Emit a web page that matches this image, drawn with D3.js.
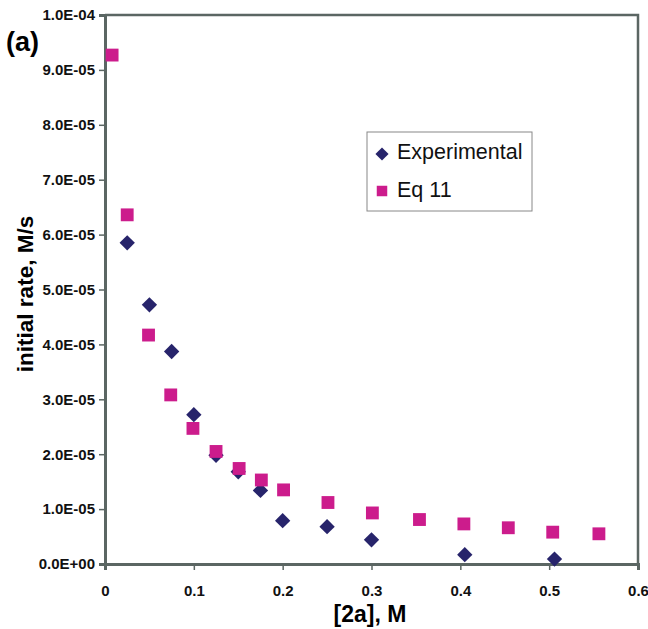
<!DOCTYPE html>
<html>
<head>
<meta charset="utf-8">
<script src="https://cdn.jsdelivr.net/npm/d3@7"></script>
<style>
  body { margin: 0; background: #fff; }
  text { font-family: "Liberation Sans", Arial, sans-serif; }
</style>
</head>
<body>
<div id="chart"></div>
<script>
// values
const expX = [0.025, 0.05, 0.075, 0.1, 0.125, 0.15, 0.175, 0.2, 0.25, 0.3, 0.405, 0.506];
const expY = [5.85e-5, 4.72e-5, 3.87e-5, 2.72e-5, 1.98e-5, 1.68e-5, 1.34e-5, 0.79e-5, 0.68e-5, 0.44e-5, 0.17e-5, 0.09e-5];
const eqX = [0.008, 0.025, 0.049, 0.074, 0.099, 0.125, 0.151, 0.176, 0.201, 0.251, 0.301, 0.354, 0.404, 0.454, 0.504, 0.556];
const eqY = [9.27e-5, 6.36e-5, 4.17e-5, 3.08e-5, 2.47e-5, 2.05e-5, 1.74e-5, 1.53e-5, 1.35e-5, 1.12e-5, 0.93e-5, 0.81e-5, 0.73e-5, 0.66e-5, 0.58e-5, 0.55e-5];
const xTicks = [0, 0.1, 0.2, 0.3, 0.4, 0.5, 0.6];
const yTicks = [0, 1e-5, 2e-5, 3e-5, 4e-5, 5e-5, 6e-5, 7e-5, 8e-5, 9e-5, 1e-4];
const seriesNames = ["Experimental", "Eq 11"];

const W = 648, H = 629;
const margin = { top: 15, right: 10, bottom: 65, left: 105 },
      width = W - margin.left - margin.right,
      height = H - margin.top - margin.bottom;

const navy = "#27246b", magenta = "#cc1c8c", axisCol = "#5b6663";

const svg = d3.select("#chart").append("svg")
  .attr("width", W).attr("height", H);
const g = svg.append("g")
  .attr("transform", `translate(${margin.left},${margin.top})`);

const x = d3.scaleLinear().domain([0, 0.6]).range([0, width]);
const y = d3.scaleLinear().domain([0, 1e-4]).range([height, 0]);

// frame: top/right
g.append("path")
  .attr("d", `M0,0H${width}V${height}`)
  .attr("fill", "none").attr("stroke", axisCol).attr("stroke-width", 2.5);

const fmtY = d => {
  const [m, e] = d.toExponential(1).split("e");
  const n = Math.abs(+e);
  return `${m}E${+e < 0 ? "-" : "+"}${String(n).padStart(2, "0")}`;
};

const yAxis = g.append("g")
  .call(d3.axisLeft(y).tickValues(yTicks).tickFormat(fmtY).tickSize(6).tickPadding(4));
const xAxis = g.append("g")
  .attr("transform", `translate(0,${height})`)
  .call(d3.axisBottom(x).tickValues(xTicks).tickFormat(d => d3.format("")(d)).tickSize(6).tickPadding(15));

[xAxis, yAxis].forEach(a => {
  a.select(".domain").attr("stroke", axisCol).attr("stroke-width", 3);
  a.selectAll(".tick line").attr("stroke", axisCol).attr("stroke-width", 1.5);
  a.selectAll(".tick text")
    .attr("fill", "#111")
    .style("font-size", "15px")
    .style("font-weight", "bold")
    .style("font-family", "Liberation Sans, Arial, sans-serif");
});

const diamond = d3.symbol().type(d3.symbolDiamond2).size(150);
const square = d3.symbol().type(d3.symbolSquare).size(165);

g.append("g").selectAll("path")
  .data(expX.map((v, i) => [v, expY[i]]))
  .enter().append("path")
  .attr("d", diamond)
  .attr("transform", d => `translate(${x(d[0])},${y(d[1])})`)
  .attr("fill", navy);

g.append("g").selectAll("path")
  .data(eqX.map((v, i) => [v, eqY[i]]))
  .enter().append("path")
  .attr("d", square)
  .attr("transform", d => `translate(${x(d[0])},${y(d[1])})`)
  .attr("fill", magenta);

// legend
const lg = svg.append("g").attr("transform", "translate(367,132)");
lg.append("rect").attr("width", 165).attr("height", 79)
  .attr("fill", "#fff").attr("stroke", "#888").attr("stroke-width", 1);
lg.append("path").attr("d", d3.symbol().type(d3.symbolDiamond2).size(110))
  .attr("transform", "translate(15,22)").attr("fill", navy);
lg.append("path").attr("d", d3.symbol().type(d3.symbolSquare).size(110))
  .attr("transform", "translate(15,59)").attr("fill", magenta);
lg.selectAll("text.lab").data(seriesNames).enter().append("text")
  .attr("class", "lab")
  .attr("x", 30).attr("y", (d, i) => 27 + i * 38)
  .style("font-size", "21.5px").attr("fill", "#111")
  .text(d => d);

// axis titles
svg.append("text")
  .attr("x", 370).attr("y", 622)
  .attr("text-anchor", "middle")
  .style("font-size", "23px").style("font-weight", "bold")
  .text("[2a], M");

svg.append("text")
  .attr("transform", `translate(33,294) rotate(-90)`)
  .attr("text-anchor", "middle")
  .style("font-size", "22.5px").style("font-weight", "bold")
  .text("initial rate, M/s");

svg.append("text")
  .attr("x", 6).attr("y", 51)
  .style("font-size", "27px").style("font-weight", "bold")
  .text("(a)");
</script>
</body>
</html>
